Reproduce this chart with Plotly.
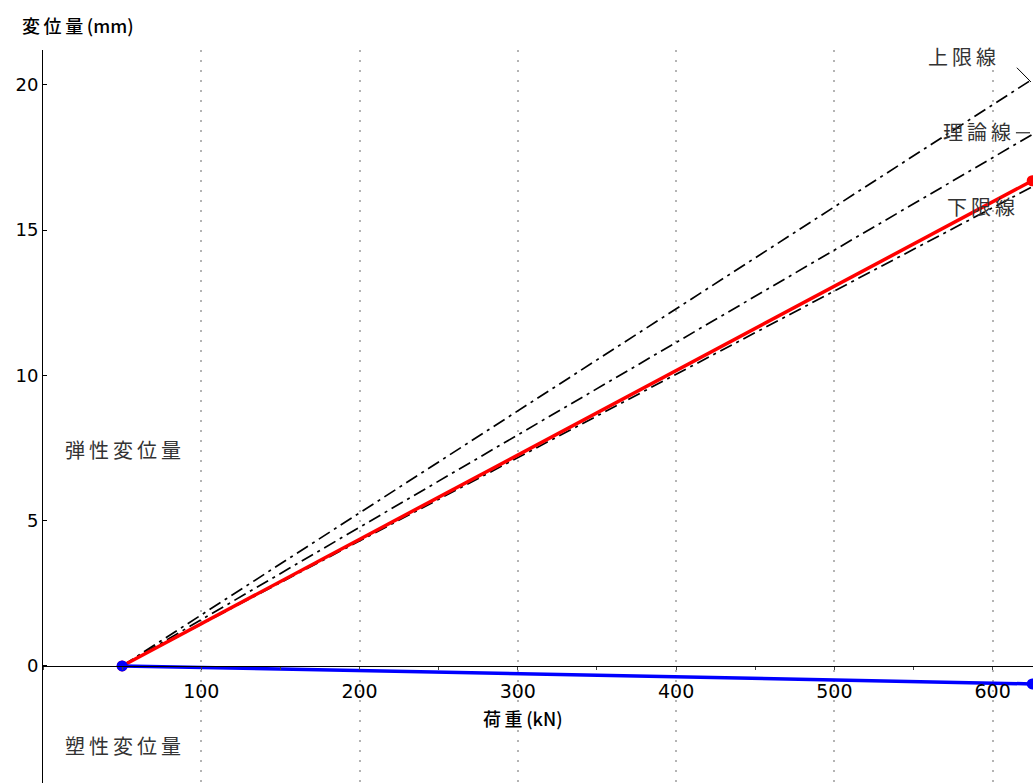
import plotly.graph_objects as go

# ---- data ----
load_start = 50
load_end = 625
elastic = [0, 16.7]        # 弾性変位量 (red)
plastic = [0, -0.62]       # 塑性変位量 (blue)
upper = [0, 20.19]         # 上限線
theory = [0, 18.29]        # 理論線
lower = [0, 16.49]         # 下限線
loads = [load_start, load_end]

x_ticks = [100, 200, 300, 400, 500, 600]
y_ticks = [0, 5, 10, 15, 20]

JP = "Noto Sans CJK JP"
NUM = "DejaVu Sans"
TS = "\u2009"


def spaced(s):
    return TS.join(list(s))


fig = go.Figure()

for vals in (upper, theory, lower):
    fig.add_trace(go.Scatter(x=loads, y=vals, mode="lines",
                             line=dict(color="black", width=1.7, dash="13px,5px,3px,5px"),
                             showlegend=False, hoverinfo="skip"))

fig.add_trace(go.Scatter(x=loads, y=elastic, mode="lines+markers",
                         line=dict(color="#ff0000", width=3.5),
                         marker=dict(color="#ff0000", size=11),
                         showlegend=False))
fig.add_trace(go.Scatter(x=loads, y=plastic, mode="lines+markers",
                         line=dict(color="#0000ff", width=3.5),
                         marker=dict(color="#0000ff", size=11),
                         showlegend=False))

ymin, ymax = -4.03, 21.2
fig.update_layout(
    width=1033, height=783,
    margin=dict(l=43, r=0, t=50, b=0),
    paper_bgcolor="white", plot_bgcolor="white",
    xaxis=dict(range=[0, 625.5], tickvals=x_ticks, ticktext=[str(v) for v in x_ticks],
               showgrid=True, gridcolor="#b4b4b4", griddash="2px,8px", gridwidth=2,
               showline=True, linecolor="black", linewidth=1,
               anchor="free", position=(0 - ymin) / (ymax - ymin),
               ticks="outside", ticklen=3, tickcolor="#444",
               minor=dict(dtick=50, tick0=0, ticks="outside", ticklen=3, tickcolor="#444", showgrid=False),
               tickfont=dict(family=NUM, size=19, color="black"),
               ticklabelstandoff=5,
               zeroline=False),
    yaxis=dict(range=[ymin, ymax], tickvals=y_ticks, ticktext=[str(v) for v in y_ticks],
               showgrid=False, zeroline=False,
               showline=True, linecolor="black", linewidth=1,
               ticks="inside", ticklen=4, tickcolor="black",
               tickfont=dict(family=NUM, size=18, color="black")),
)

annots = [
    dict(text="変\u2009位\u2009量\u2009(mm)", xref="paper", yref="paper", x=(20 - 43) / 990, y=(783 - 25) / 733,
         xanchor="left", yanchor="middle", font=dict(family=JP, size=18, color="black", weight=500)),
    dict(text="荷\u2009重\u2009(kN)", xref="x", yref="y", x=303, y=-1.79,
         xanchor="center", yanchor="middle", font=dict(family=JP, size=18, color="black", weight=500)),
    dict(text=spaced("上限線"), xref="x", yref="y", x=580.6, y=20.96, xanchor="center", yanchor="middle",
         font=dict(family=JP, size=20, color="#333")),
    dict(text=spaced("理論線"), xref="x", yref="y", x=590.1, y=18.38, xanchor="center", yanchor="middle",
         font=dict(family=JP, size=20, color="#333")),
    dict(text=spaced("下限線"), xref="x", yref="y", x=592.6, y=15.8, xanchor="center", yanchor="middle",
         font=dict(family=JP, size=20, color="#333")),
    dict(text=spaced("弾性変位量"), xref="x", yref="y", x=50.7, y=7.44, xanchor="center", yanchor="middle",
         font=dict(family=JP, size=20, color="#333")),
    dict(text=spaced("塑性変位量"), xref="x", yref="y", x=50.7, y=-2.75, xanchor="center", yanchor="middle",
         font=dict(family=JP, size=20, color="#333")),
]
for a in annots:
    a["showarrow"] = False
    fig.add_annotation(**a)

# leader lines for labels
fig.add_shape(type="line", xref="x", yref="y", x0=615.3, y0=20.59, x1=624.2, y1=20.10,
              line=dict(color="black", width=1))
fig.add_shape(type="line", xref="x", yref="y", x0=614.7, y0=18.35, x1=623.6, y1=18.35,
              line=dict(color="black", width=1))

fig.write_html("out.html")
